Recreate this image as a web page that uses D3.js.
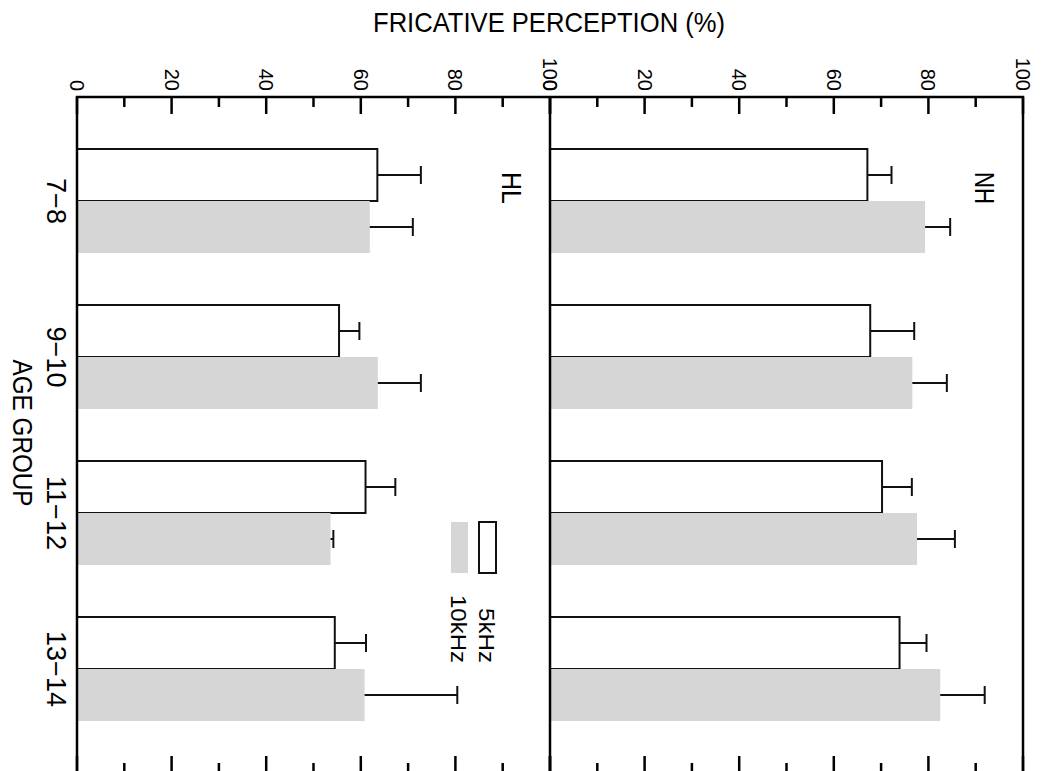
<!DOCTYPE html>
<html>
<head>
<meta charset="utf-8">
<script src="https://cdn.jsdelivr.net/npm/d3@7"></script>
<style>
  html, body { margin: 0; padding: 0; background: #fff; }
  svg { display: block; font-family: "Liberation Sans", Arial, sans-serif; }
</style>
</head>
<body>
<svg id="chart" width="1041" height="771"></svg>
<script>
// Data (percent correct, mean and upper error)
const ageGroups = ['7-8', '9-10', '11-12', '13-14'];
const seriesNames = ['5kHz', '10kHz'];
const panelNames = ['HL', 'NH'];

const hl5kHz     = [63.5, 55.4, 61.0, 54.5];
const hl5kHzErr  = [9.2, 4.3, 6.3, 6.6];
const hl10kHz    = [61.9, 63.6, 53.6, 60.8];
const hl10kHzErr = [9.1, 9.1, 0.6, 19.6];

const nh5kHz     = [67.1, 67.7, 70.2, 73.9];
const nh5kHzErr  = [5.1, 9.3, 6.3, 5.7];
const nh10kHz    = [79.3, 76.6, 77.6, 82.5];
const nh10kHzErr = [5.3, 7.3, 8.0, 9.4];

const tickValues = [0, 20, 40, 60, 80, 100];

const FILL = { '5kHz': '#ffffff', '10kHz': '#d6d6d6' };

// ── Layout ───────────────────────────────────────────────────────────────────
const LEFT = 77, MID = 550, RIGHT = 1023, TOP = 97, BOTTOM = 773;

const svg = d3.select('#chart');

const yGroup = d3.scaleBand()
  .domain(ageGroups)
  .range([TOP, BOTTOM])
  .paddingInner(1 / 3)
  .paddingOuter(1 / 3);

const ySeries = d3.scaleBand()
  .domain(seriesNames)
  .range([0, yGroup.bandwidth()]);

const panels = [
  { name: 'HL', x: d3.scaleLinear().domain([0, 100]).range([LEFT, MID]),
    values: { '5kHz': hl5kHz, '10kHz': hl10kHz }, errs: { '5kHz': hl5kHzErr, '10kHz': hl10kHzErr } },
  { name: 'NH', x: d3.scaleLinear().domain([0, 100]).range([MID, RIGHT]),
    values: { '5kHz': nh5kHz, '10kHz': nh10kHz }, errs: { '5kHz': nh5kHzErr, '10kHz': nh10kHzErr } },
];

// ── Bars and error bars ─────────────────────────────────────────────────────
panels.forEach(p => {
  const rows = [];
  ageGroups.forEach((g, i) => {
    seriesNames.forEach(s => {
      rows.push({ group: g, series: s, value: p.values[s][i], err: p.errs[s][i] });
    });
  });

  const g = svg.append('g').attr('class', 'panel-' + p.name);

  g.selectAll('rect.bar')
    .data(rows)
    .join('rect')
    .attr('class', 'bar')
    .attr('x', p.x(0))
    .attr('y', d => yGroup(d.group) + ySeries(d.series))
    .attr('width', d => p.x(d.value) - p.x(0))
    .attr('height', ySeries.bandwidth())
    .attr('fill', d => FILL[d.series])
    .attr('stroke', d => d.series === '5kHz' ? '#111' : 'none')
    .attr('stroke-width', 2);

  const eb = g.selectAll('g.err')
    .data(rows)
    .join('g')
    .attr('class', 'err')
    .attr('transform', d => `translate(0,${yGroup(d.group) + ySeries(d.series) + ySeries.bandwidth() / 2})`);

  eb.append('line')
    .attr('x1', d => p.x(d.value))
    .attr('x2', d => p.x(d.value + d.err))
    .attr('stroke', '#111')
    .attr('stroke-width', 2);

  eb.append('line')
    .attr('x1', d => p.x(d.value + d.err))
    .attr('x2', d => p.x(d.value + d.err))
    .attr('y1', -9)
    .attr('y2', 9)
    .attr('stroke', '#111')
    .attr('stroke-width', 2);

  // ticks on top and bottom, pointing inward
  const ticks = p.x.ticks(10);
  const tk = svg.append('g').attr('stroke', '#000').attr('stroke-width', 2.5);
  ticks.forEach(t => {
    const len = t % 20 === 0 ? 17 : 10;
    tk.append('line').attr('x1', p.x(t)).attr('x2', p.x(t)).attr('y1', TOP).attr('y2', TOP + len);
    tk.append('line').attr('x1', p.x(t)).attr('x2', p.x(t)).attr('y1', BOTTOM).attr('y2', BOTTOM - len);
  });

  // tick labels, rotated
  svg.append('g').selectAll('text')
    .data(tickValues)
    .join('text')
    .attr('transform', d => `translate(${p.x(d)},91) rotate(90)`)
    .attr('text-anchor', 'end')
    .attr('dy', '0.35em')
    .attr('font-size', 20)
    .attr('fill', '#000')
    .text(d => d);
});

// ── Frame ────────────────────────────────────────────────────────────────────
const frame = svg.append('g').attr('stroke', '#000').attr('stroke-width', 2.5).attr('fill', 'none');
frame.append('rect').attr('x', LEFT).attr('y', TOP).attr('width', RIGHT - LEFT).attr('height', BOTTOM - TOP);
frame.append('line').attr('x1', MID).attr('x2', MID).attr('y1', TOP).attr('y2', BOTTOM);

// ── Panel labels ─────────────────────────────────────────────────────────────
svg.append('g').selectAll('text')
  .data(panelNames)
  .join('text')
  .attr('transform', (d, i) => `translate(${(i === 0 ? MID : RIGHT) - 48},188) rotate(90)`)
  .attr('text-anchor', 'middle')
  .attr('font-size', 28)
  .attr('textLength', 32)
  .attr('lengthAdjust', 'spacingAndGlyphs')
  .text(d => d);

// ── Age group labels ─────────────────────────────────────────────────────────
svg.append('g').selectAll('text')
  .data(ageGroups)
  .join('text')
  .attr('transform', d => `translate(47,${yGroup(d) + yGroup.bandwidth() / 2}) rotate(90)`)
  .attr('text-anchor', 'middle')
  .attr('font-size', 27)
  .text(d => d.replace('-', '\u2212'));

svg.append('text')
  .attr('transform', 'translate(13,433) rotate(90)')
  .attr('text-anchor', 'middle')
  .attr('font-size', 27)
  .attr('textLength', 147)
  .attr('lengthAdjust', 'spacingAndGlyphs')
  .text('AGE GROUP');

// ── Title ────────────────────────────────────────────────────────────────────
svg.append('text')
  .attr('x', 549)
  .attr('y', 32)
  .attr('text-anchor', 'middle')
  .attr('font-size', 28)
  .attr('textLength', 352)
  .attr('lengthAdjust', 'spacingAndGlyphs')
  .text('FRICATIVE PERCEPTION (%)');

// ── Legend ───────────────────────────────────────────────────────────────────
const legend = svg.append('g');
const legendX = { '5kHz': 479, '10kHz': 451 };
seriesNames.forEach(s => {
  legend.append('rect')
    .attr('x', legendX[s])
    .attr('y', 522)
    .attr('width', 17)
    .attr('height', 51)
    .attr('fill', FILL[s])
    .attr('stroke', s === '5kHz' ? '#111' : 'none')
    .attr('stroke-width', 2);
  legend.append('text')
    .attr('transform', `translate(${legendX[s]},663) rotate(90)`)
    .attr('text-anchor', 'end')
    .attr('font-size', 22)
    .attr('textLength', s === '5kHz' ? 55 : 68)
    .attr('lengthAdjust', 'spacingAndGlyphs')
    .text(s);
});
</script>
</body>
</html>
